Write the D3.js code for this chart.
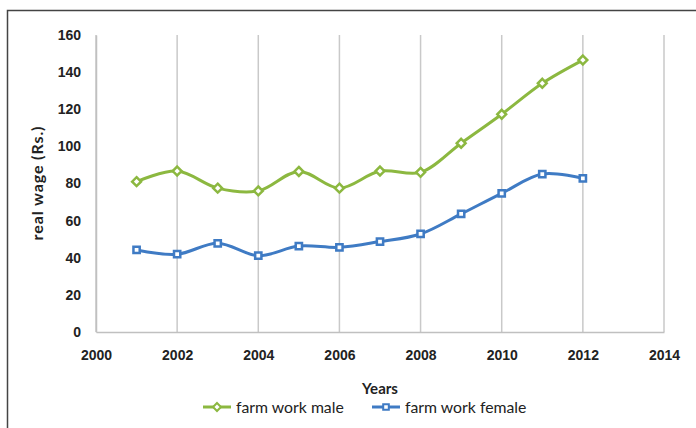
<!DOCTYPE html>
<html lang="en">
<head>
<meta charset="utf-8">
<title>Real wage farm work</title>
<script src="https://cdn.jsdelivr.net/npm/d3@7"></script>
<style>
  body { margin: 0; background: #fff; }
  svg { display: block; font-family: Lato, "Open Sans", sans-serif; }
  .tick text { font-size: 14px; font-weight: 700; fill: #222; }
</style>
</head>
<body>
<script>
// data
var years = [2001, 2002, 2003, 2004, 2005, 2006, 2007, 2008, 2009, 2010, 2011, 2012];
var maleWage = [81, 86.7, 77.5, 76, 86.5, 77.5, 86.7, 86, 101.7, 117.3, 134, 146.5];
var femaleWage = [44.2, 41.9, 47.8, 41.1, 46.3, 45.6, 48.7, 52.8, 63.6, 74.7, 85.1, 82.8];
var xTicks = [2000, 2002, 2004, 2006, 2008, 2010, 2012, 2014];
var yTicks = [0, 20, 40, 60, 80, 100, 120, 140, 160];
var seriesNames = ["farm work male", "farm work female"];

var w = 696, h = 428;
var plotLeft = 96, plotRight = 664, plotTop = 35, plotBottom = 332;
var green = "#8CB840", blue = "#3F7BC4";

var svg = d3.select("body").append("svg")
  .attr("width", w).attr("height", h);

// outer frame (left and top edges visible)
svg.append("path")
  .attr("d", "M7.5," + h + "V10.5H" + w)
  .attr("fill", "none")
  .attr("stroke", "#444")
  .attr("stroke-width", 1.5);

var x = d3.scaleLinear().domain([2000, 2014]).range([plotLeft, plotRight]);
var y = d3.scaleLinear().domain([0, 160]).range([plotBottom, plotTop]);

// vertical gridlines
svg.append("g")
  .selectAll("line")
  .data(xTicks)
  .enter().append("line")
  .attr("x1", function(d) { return x(d); })
  .attr("x2", function(d) { return x(d); })
  .attr("y1", plotTop)
  .attr("y2", plotBottom)
  .attr("stroke", "#c9c9c9")
  .attr("stroke-width", 1.5);

// bottom axis
var xAxis = d3.axisBottom(x).tickValues(xTicks).tickFormat(d3.format("d")).tickSize(0).tickPadding(18);
var gx = svg.append("g").attr("transform", "translate(0," + plotBottom + ")").call(xAxis);
gx.select(".domain").attr("stroke", "#c0c0c0").attr("stroke-width", 1.5);

// left axis
var yAxis = d3.axisLeft(y).tickValues(yTicks).tickSize(0).tickPadding(15);
var gy = svg.append("g").attr("transform", "translate(" + plotLeft + ",0)").call(yAxis);
gy.select(".domain").attr("stroke", "#c0c0c0").attr("stroke-width", 1.5);

// axis titles
svg.append("text")
  .attr("transform", "translate(43,183) rotate(-90)")
  .attr("text-anchor", "middle")
  .attr("font-size", 16)
  .attr("letter-spacing", 0.9)
  .attr("font-weight", 700)
  .attr("fill", "#222")
  .text("real wage (Rs.)");

svg.append("text")
  .attr("x", 380).attr("y", 394)
  .attr("text-anchor", "middle")
  .attr("font-size", 15)
  .attr("font-weight", 700)
  .attr("fill", "#222")
  .text("Years");

var line = d3.line()
  .x(function(d, i) { return x(years[i]); })
  .y(function(d) { return y(d); })
  .curve(d3.curveCatmullRom.alpha(0.5));

var diamond = d3.symbol().type(d3.symbolDiamond2).size(50);
var square = d3.symbol().type(d3.symbolSquare2).size(50);

function drawSeries(values, color, sym) {
  svg.append("path")
    .datum(values)
    .attr("d", line)
    .attr("fill", "none")
    .attr("stroke", color)
    .attr("stroke-width", 3);
  svg.append("g")
    .selectAll("path")
    .data(values)
    .enter().append("path")
    .attr("d", sym)
    .attr("transform", function(d, i) { return "translate(" + x(years[i]) + "," + y(d) + ")"; })
    .attr("fill", "#fff")
    .attr("stroke", color)
    .attr("stroke-width", 2.5);
}

drawSeries(maleWage, green, diamond);
drawSeries(femaleWage, blue, square);

// legend
var legend = [
  { name: seriesNames[0], color: green, sym: d3.symbol().type(d3.symbolDiamond2).size(40), x: 203 },
  { name: seriesNames[1], color: blue, sym: d3.symbol().type(d3.symbolSquare2).size(40), x: 372 }
];
var lg = svg.append("g").selectAll("g")
  .data(legend)
  .enter().append("g")
  .attr("transform", function(d) { return "translate(" + d.x + ",407)"; });
lg.append("line")
  .attr("x1", 0).attr("x2", 28)
  .attr("stroke", function(d) { return d.color; })
  .attr("stroke-width", 3);
lg.append("path")
  .attr("d", function(d) { return d.sym(); })
  .attr("transform", "translate(14,0)")
  .attr("fill", "#fff")
  .attr("stroke", function(d) { return d.color; })
  .attr("stroke-width", 2);
lg.append("text")
  .attr("x", 33).attr("dy", "0.35em")
  .attr("font-size", 15.8)
  .attr("fill", "#222")
  .text(function(d) { return d.name; });
</script>
</body>
</html>
